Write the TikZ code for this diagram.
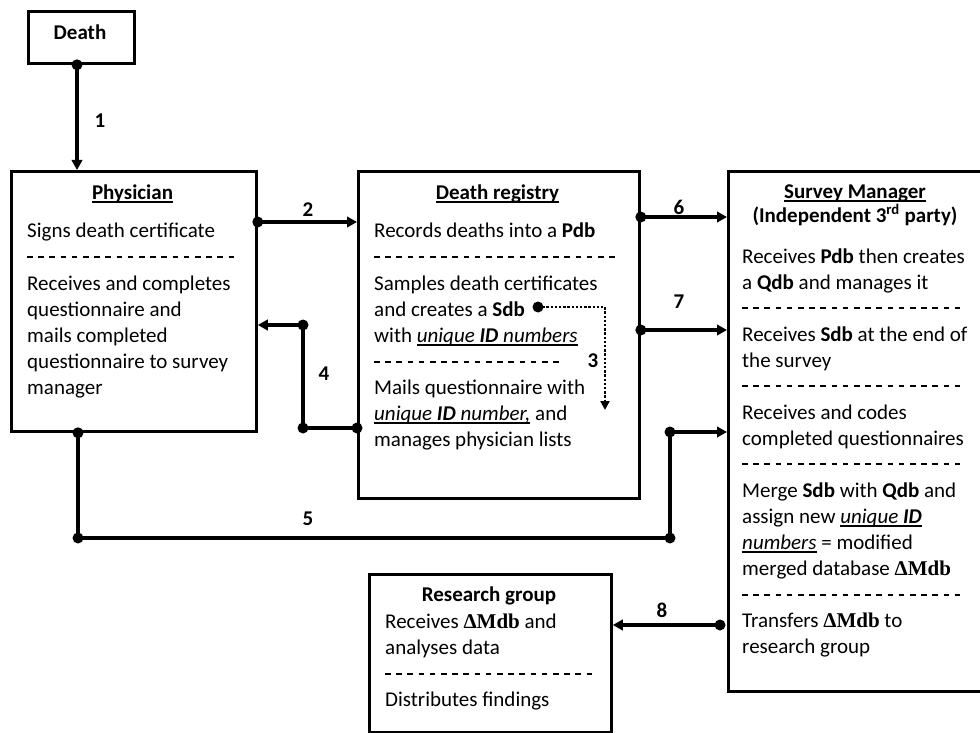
\documentclass[tikz,border=0pt]{standalone}
\usepackage{fontspec}
\setmainfont{Carlito}
\newfontfamily\serifb{Liberation Serif}
\usetikzlibrary{arrows.meta,calc}
\newcommand\myul[1]{\setbox0\hbox{#1}\rlap{\rule[-3.5pt]{\wd0}{1.4pt}}\box0\relax}
\newcommand\dmdb{{\serifb\bfseries ΔMdb}}
\tikzset{
  box/.style={draw, line width=2.8pt, anchor=north west, inner sep=0pt},
  txt/.style={anchor=base west, inner sep=0pt, font=\fontsize{21}{26}\selectfont},
  ttl/.style={anchor=base, inner sep=0pt, font=\fontsize{21}{26}\selectfont\bfseries},
  num/.style={inner sep=0pt, font=\fontsize{21}{26}\selectfont\bfseries},
  conn/.style={line width=3.6pt, -{Triangle[length=10pt,width=10.5pt]}},
  dotconn/.style={line width=2.8pt, dash pattern=on 2.4pt off 1.8pt, -{Triangle[length=9pt,width=9pt]}},
  sep/.style={line width=1.4pt, dash pattern=on 5.5pt off 5.7pt},
}
\begin{document}
\begin{tikzpicture}[x=1pt,y=-1pt]
\useasboundingbox (0,0) rectangle (980,733);
\clip (0,0) rectangle (980,733);
\fill[white] (0,0) rectangle (980,733);

% boxes
\node[box, minimum width=106pt, minimum height=52pt] (death) at (27,10) {};
\node[box, minimum width=245pt, minimum height=260pt] (phys) at (10,170) {};
\node[box, minimum width=281pt, minimum height=327pt] (reg) at (357,170) {};
\node[box, minimum width=257pt, minimum height=520pt] (surv) at (727,170) {};
\node[box, minimum width=242pt, minimum height=158pt] (res) at (368,573) {};

% Death
\node[ttl] (dt) at (80,40) {Death};

% Physician
\node[ttl] (pt) at (132.5,199) {\myul{Physician}};
\node[txt] (p1) at (27,237) {Signs death certificate};
\draw[sep] (27,257) -- (237,257);
\node[txt] (p2) at (27,290) {Receives and completes};
\node[txt] (p3) at (27,316) {questionnaire and};
\node[txt] (p4) at (27,342) {mails completed};
\node[txt] (p5) at (27,368) {questionnaire to survey};
\node[txt] (p6) at (27,394) {manager};

% Death registry
\node[ttl] (rt) at (497.5,199) {\myul{Death registry}};
\node[txt] (r1) at (374,237) {Records deaths into a \textbf{Pdb}};
\draw[sep] (374,257) -- (617,257);
\node[txt] (r2) at (374,290) {Samples death certificates};
\node[txt] (r3) at (374,316) {and creates a \textbf{Sdb}};
\node[txt] (r4) at (374,342) {with \myul{\textit{unique \textbf{ID} numbers}}};
\draw[sep] (374,362) -- (563,362);
\node[txt] (r5) at (374,394) {Mails questionnaire with};
\node[txt] (r6) at (374,420) {\myul{\textit{unique \textbf{ID} number,}} and};
\node[txt] (r7) at (374,446) {manages physician lists};

% Survey manager
\node[ttl] (st1) at (855,198) {\myul{Survey Manager}};
\node[ttl] (st2) at (855,222) {(Independent 3\textsuperscript{rd} party)};
\node[txt] (s1) at (742,263) {Receives \textbf{Pdb} then creates};
\node[txt] (s2) at (742,289) {a \textbf{Qdb} and manages it};
\draw[sep] (742,308) -- (965,308);
\node[txt] (s3) at (742,341) {Receives \textbf{Sdb} at the end of};
\node[txt] (s4) at (742,367) {the survey};
\draw[sep] (742,386) -- (965,386);
\node[txt] (s5) at (742,419) {Receives and codes};
\node[txt] (s6) at (742,445) {completed questionnaires};
\draw[sep] (742,464) -- (965,464);
\node[txt] (s7) at (742,497) {Merge \textbf{Sdb} with \textbf{Qdb} and};
\node[txt] (s8) at (742,523) {assign new \myul{\textit{unique \textbf{ID}}}};
\node[txt] (s9) at (742,549) {\myul{\textit{numbers}} = modified};
\node[txt] (s10) at (742,575) {merged database \dmdb};
\draw[sep] (742,595) -- (965,595);
\node[txt] (s11) at (742,627) {Transfers \dmdb{} to};
\node[txt] (s12) at (742,653) {research group};

% Research group
\node[ttl] (gt) at (489,601) {Research group};
\node[txt] (g1) at (385,628) {Receives \dmdb{} and};
\node[txt] (g2) at (385,654) {analyses data};
\draw[sep] (385,674) -- (595,674);
\node[txt] (g3) at (385,706) {Distributes findings};

% bend coordinates
\coordinate (c3s) at (538,307);
\coordinate (c3e) at (605,410);
\coordinate (b4a) at (303,428);
\coordinate (b4b) at (303,325);
\coordinate (b5a) at (78,538);
\coordinate (b5b) at (670,538);
\coordinate (b5c) at (670,432);

% connectors
\draw[conn] (death.south -| 77,0) -- (phys.north -| 77,0);
\fill (death.south -| 77,0) circle (5.5pt);

\draw[conn] (phys.east |- 0,222) -- (reg.west |- 0,222);
\fill (phys.east |- 0,222) circle (5.5pt);

\draw[dotconn] (c3s) -| (c3e);
\fill (c3s) circle (5.5pt);

\draw[conn] (reg.west |- b4a) -- (b4a) -- (b4b) -- (phys.east |- b4b);
\fill (reg.west |- b4a) circle (5.5pt);
\fill (b4a) circle (5.5pt);
\fill (b4b) circle (5.5pt);

\draw[conn] (phys.south -| b5a) -- (b5a) -- (b5b) -- (b5c) -- (surv.west |- b5c);
\fill (phys.south -| b5a) circle (5.5pt);
\fill (b5a) circle (5.5pt);
\fill (b5b) circle (5.5pt);
\fill (b5c) circle (5.5pt);

\draw[conn] (reg.east |- 0,217) -- (surv.west |- 0,217);
\fill (reg.east |- 0,217) circle (5.5pt);

\draw[conn] (reg.east |- 0,330) -- (surv.west |- 0,330);
\fill (reg.east |- 0,330) circle (5.5pt);

\draw[conn] ($(surv.west |- 0,625)+(-7,0)$) -- (res.east |- 0,625);
\fill ($(surv.west |- 0,625)+(-7,0)$) circle (5.5pt);

% labels
\node[num] (n1) at (100,121) {1};
\node[num] (n2) at (308,210) {2};
\node[num] (n3) at (593,361) {3};
\node[num] (n4) at (324,374) {4};
\node[num] (n5) at (308,519) {5};
\node[num] (n6) at (679,207) {6};
\node[num] (n7) at (679,302) {7};
\node[num] (n8) at (662,610) {8};
\end{tikzpicture}
\end{document}
